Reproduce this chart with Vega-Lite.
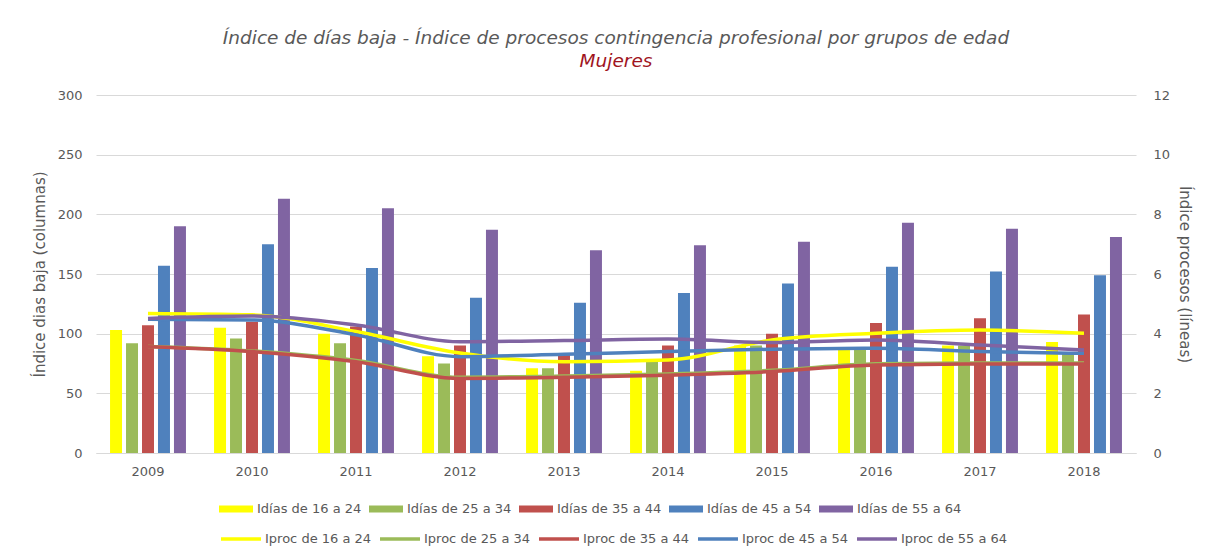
{
  "$schema": "https://vega.github.io/schema/vega-lite/v6.json",
  "width": 1040,
  "height": 358,
  "autosize": {"type": "none"},
  "padding": {"left": 96, "top": 95, "right": 71, "bottom": 103},
  "background": "white",
  "config": {
    "font": "DejaVu Sans",
    "view": {"stroke": null},
    "axis": {"labelColor": "#595959", "titleColor": "#595959", "labelFont": "DejaVu Sans", "titleFont": "DejaVu Sans", "labelFontSize": 13, "titleFontSize": 15, "titleFontWeight": "normal", "gridColor": "#d9d9d9", "domain": false, "ticks": false}
  },
  "title": {
    "text": "Índice de días baja - Índice de procesos contingencia profesional por grupos de edad",
    "subtitle": "Mujeres",
    "font": "DejaVu Sans",
    "subtitleFont": "DejaVu Sans",
    "fontSize": 18.5,
    "fontStyle": "italic",
    "fontWeight": "normal",
    "color": "#595959",
    "subtitleColor": "#a0141e",
    "subtitleFontSize": 18.5,
    "subtitleFontStyle": "italic",
    "subtitlePadding": 4,
    "anchor": "middle",
    "offset": 19
  },
  "data": {
    "values": [
      {"year": "2009", "g": "16 a 24", "dias": 103, "proc": 4.68},
      {"year": "2009", "g": "25 a 34", "dias": 92, "proc": 3.57},
      {"year": "2009", "g": "35 a 44", "dias": 107, "proc": 3.56},
      {"year": "2009", "g": "45 a 54", "dias": 157, "proc": 4.48},
      {"year": "2009", "g": "55 a 64", "dias": 190, "proc": 4.51},
      {"year": "2010", "g": "16 a 24", "dias": 105, "proc": 4.63},
      {"year": "2010", "g": "25 a 34", "dias": 96, "proc": 3.42},
      {"year": "2010", "g": "35 a 44", "dias": 110, "proc": 3.4},
      {"year": "2010", "g": "45 a 54", "dias": 175, "proc": 4.46},
      {"year": "2010", "g": "55 a 64", "dias": 213, "proc": 4.59},
      {"year": "2011", "g": "16 a 24", "dias": 100, "proc": 4.07},
      {"year": "2011", "g": "25 a 34", "dias": 92, "proc": 3.1},
      {"year": "2011", "g": "35 a 44", "dias": 106, "proc": 3.06},
      {"year": "2011", "g": "45 a 54", "dias": 155, "proc": 3.96},
      {"year": "2011", "g": "55 a 64", "dias": 205, "proc": 4.29},
      {"year": "2012", "g": "16 a 24", "dias": 81, "proc": 3.35},
      {"year": "2012", "g": "25 a 34", "dias": 75, "proc": 2.54},
      {"year": "2012", "g": "35 a 44", "dias": 90, "proc": 2.5},
      {"year": "2012", "g": "45 a 54", "dias": 130, "proc": 3.23},
      {"year": "2012", "g": "55 a 64", "dias": 187, "proc": 3.73},
      {"year": "2013", "g": "16 a 24", "dias": 71, "proc": 3.06},
      {"year": "2013", "g": "25 a 34", "dias": 71, "proc": 2.58},
      {"year": "2013", "g": "35 a 44", "dias": 83, "proc": 2.54},
      {"year": "2013", "g": "45 a 54", "dias": 126, "proc": 3.31},
      {"year": "2013", "g": "55 a 64", "dias": 170, "proc": 3.77},
      {"year": "2014", "g": "16 a 24", "dias": 69, "proc": 3.12},
      {"year": "2014", "g": "25 a 34", "dias": 77, "proc": 2.65},
      {"year": "2014", "g": "35 a 44", "dias": 90, "proc": 2.61},
      {"year": "2014", "g": "45 a 54", "dias": 134, "proc": 3.4},
      {"year": "2014", "g": "55 a 64", "dias": 174, "proc": 3.82},
      {"year": "2015", "g": "16 a 24", "dias": 90, "proc": 3.79},
      {"year": "2015", "g": "25 a 34", "dias": 90, "proc": 2.77},
      {"year": "2015", "g": "35 a 44", "dias": 100, "proc": 2.73},
      {"year": "2015", "g": "45 a 54", "dias": 142, "proc": 3.48},
      {"year": "2015", "g": "55 a 64", "dias": 177, "proc": 3.7},
      {"year": "2016", "g": "16 a 24", "dias": 87, "proc": 4.01},
      {"year": "2016", "g": "25 a 34", "dias": 88, "proc": 2.99},
      {"year": "2016", "g": "35 a 44", "dias": 109, "proc": 2.95},
      {"year": "2016", "g": "45 a 54", "dias": 156, "proc": 3.51},
      {"year": "2016", "g": "55 a 64", "dias": 193, "proc": 3.79},
      {"year": "2017", "g": "16 a 24", "dias": 90, "proc": 4.12},
      {"year": "2017", "g": "25 a 34", "dias": 90, "proc": 3.02},
      {"year": "2017", "g": "35 a 44", "dias": 113, "proc": 2.98},
      {"year": "2017", "g": "45 a 54", "dias": 152, "proc": 3.4},
      {"year": "2017", "g": "55 a 64", "dias": 188, "proc": 3.62},
      {"year": "2018", "g": "16 a 24", "dias": 93, "proc": 4.01},
      {"year": "2018", "g": "25 a 34", "dias": 83, "proc": 3.02},
      {"year": "2018", "g": "35 a 44", "dias": 116, "proc": 2.98},
      {"year": "2018", "g": "45 a 54", "dias": 149, "proc": 3.34},
      {"year": "2018", "g": "55 a 64", "dias": 181, "proc": 3.45}
    ]
  },
  "transform": [
    {"calculate": "'Idías de ' + datum.g", "as": "bl"},
    {"calculate": "'Iproc de ' + datum.g", "as": "ll"}
  ],
  "encoding": {
    "x": {
      "field": "year", "type": "nominal", "title": null,
      "scale": {"paddingInner": 0.27, "paddingOuter": 0.135},
      "axis": {"labelAngle": 0, "labelPadding": 12, "domain": true, "domainColor": "#d9d9d9", "grid": false}
    }
  },
  "layer": [
    {
      "mark": {"type": "bar"},
      "encoding": {
        "xOffset": {"field": "g", "type": "nominal", "scale": {"paddingInner": 0.25}},
        "y": {
          "field": "dias", "type": "quantitative",
          "title": "Índice dias baja (columnas)",
          "scale": {"domain": [0, 300]},
          "axis": {"values": [0, 50, 100, 150, 200, 250, 300], "labelPadding": 14, "titlePadding": 10}
        },
        "fill": {
          "field": "bl", "type": "nominal",
          "scale": {"range": ["#FFFF00", "#9BBB59", "#C0504D", "#4F81BD", "#8064A2"]},
          "legend": {
            "title": null, "orient": "none", "direction": "horizontal",
            "legendX": 123, "legendY": 397,
            "symbolType": "M-1,-0.2H1V0.2H-1Z", "symbolSize": 1156, "symbolStrokeWidth": 0,
            "labelFont": "DejaVu Sans", "labelFontSize": 13, "labelColor": "#595959", "columnPadding": 7, "labelOffset": 4
          }
        }
      }
    },
    {
      "mark": {"type": "line", "strokeWidth": 3.5, "interpolate": "monotone"},
      "encoding": {
        "y": {
          "field": "proc", "type": "quantitative",
          "title": "Índice procesos (líneas)",
          "scale": {"domain": [0, 12]},
          "axis": {"orient": "right", "values": [0, 2, 4, 6, 8, 10, 12], "labelPadding": 17, "titlePadding": 7, "grid": false}
        },
        "stroke": {
          "field": "ll", "type": "nominal",
          "scale": {"range": ["#FFFF00", "#9BBB59", "#C0504D", "#4F81BD", "#8064A2"]},
          "legend": {
            "title": null, "orient": "none", "direction": "horizontal",
            "legendX": 123, "legendY": 422,
            "symbolType": "stroke", "symbolSize": 1600, "symbolStrokeWidth": 3.5,
            "labelFont": "DejaVu Sans", "labelFontSize": 13, "labelColor": "#595959", "columnPadding": 1, "labelOffset": 2
          }
        }
      }
    }
  ],
  "resolve": {"scale": {"y": "independent"}}
}
